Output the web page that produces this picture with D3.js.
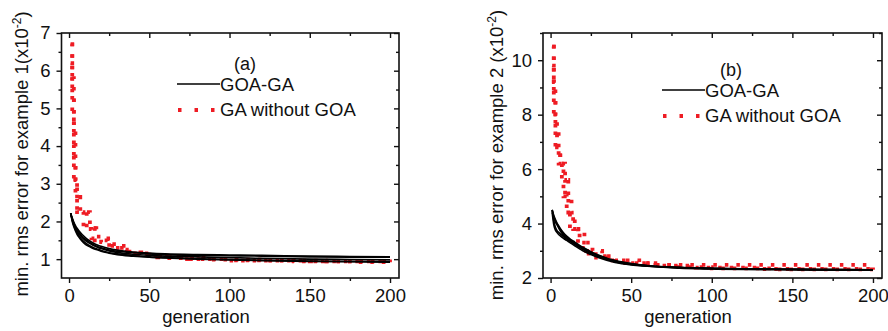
<!DOCTYPE html>
<html>
<head>
<meta charset="utf-8">
<script src="https://cdn.jsdelivr.net/npm/d3@7"></script>
<style>
  body { margin: 0; background: #fff; }
  svg { display: block; }
  text { font-family: "Liberation Sans", Arial, sans-serif; fill: #111; }
</style>
</head>
<body>
<svg id="chart" width="888" height="331"></svg>
<script>
// DATA
// generations where the GOA-GA runs were read off
var gens = [1, 2, 3, 4, 5, 6, 8, 10, 12, 15, 18, 20, 25, 30, 40, 50, 60, 80, 100, 120, 150, 175, 200];

// panel (a) - GOA-GA, 5 runs
var goaA1 = [2.22, 2.09, 1.98, 1.89, 1.82, 1.76, 1.66, 1.58, 1.51, 1.43, 1.37, 1.34, 1.28, 1.24, 1.19, 1.16, 1.14, 1.12, 1.11, 1.10, 1.08, 1.07, 1.06];
var goaA2 = [2.22, 2.06, 1.93, 1.83, 1.75, 1.68, 1.58, 1.50, 1.44, 1.37, 1.31, 1.28, 1.22, 1.18, 1.13, 1.10, 1.08, 1.06, 1.04, 1.02, 1.00, 0.99, 0.98];
var goaA3 = [2.22, 2.03, 1.89, 1.78, 1.70, 1.63, 1.52, 1.44, 1.38, 1.31, 1.26, 1.23, 1.17, 1.14, 1.09, 1.06, 1.04, 1.01, 0.99, 0.97, 0.95, 0.94, 0.93];
var goaA4 = [2.22, 2.00, 1.86, 1.75, 1.66, 1.59, 1.48, 1.40, 1.35, 1.28, 1.24, 1.21, 1.16, 1.12, 1.08, 1.05, 1.03, 1.00, 0.98, 0.96, 0.94, 0.93, 0.92];
var goaA5 = [2.22, 2.07, 1.95, 1.85, 1.78, 1.72, 1.61, 1.53, 1.47, 1.39, 1.33, 1.30, 1.24, 1.21, 1.17, 1.14, 1.12, 1.10, 1.09, 1.08, 1.06, 1.05, 1.05];

// panel (a) - GA without GOA, step points [generation, value]
var gaA1 = [[1, 6.7], [2, 5.3], [3, 3.6], [4, 2.7], [5, 2.25], [11, 1.82], [16, 1.5], [24, 1.35], [34, 1.2], [42, 1.12], [55, 1.05], [75, 1.0], [100, 0.97], [140, 0.94], [180, 0.92], [200, 0.92]];
var gaA2 = [[1, 6.7], [2, 5.8], [3, 4.4], [4, 3.1], [5, 2.65], [7, 2.25], [13, 1.82], [17, 1.6], [22, 1.55], [26, 1.4], [30, 1.3], [35, 1.18], [45, 1.1], [60, 1.03], [85, 0.99], [120, 0.96], [160, 0.94], [200, 0.93]];
var gaA3 = [[1, 6.2], [2, 4.9], [3, 3.1], [5, 2.25], [9, 1.8], [14, 1.55], [20, 1.45], [25, 1.3], [32, 1.25], [36, 1.15], [50, 1.08], [70, 1.0], [100, 0.96], [150, 0.94], [200, 0.92]];

// panel (b) - GOA-GA, 5 runs
var goaB1 = [4.50, 4.30, 4.15, 4.02, 3.92, 3.82, 3.66, 3.54, 3.44, 3.32, 3.20, 3.13, 2.97, 2.84, 2.64, 2.53, 2.46, 2.39, 2.36, 2.34, 2.32, 2.31, 2.30];
var goaB2 = [4.50, 4.10, 3.86, 3.74, 3.68, 3.62, 3.52, 3.43, 3.35, 3.23, 3.12, 3.05, 2.90, 2.78, 2.60, 2.50, 2.44, 2.38, 2.35, 2.33, 2.31, 2.30, 2.30];
var goaB3 = [4.45, 4.20, 4.05, 3.95, 3.84, 3.73, 3.57, 3.47, 3.38, 3.26, 3.15, 3.08, 2.93, 2.80, 2.61, 2.51, 2.45, 2.38, 2.35, 2.33, 2.32, 2.31, 2.30];
var goaB4 = [4.40, 3.95, 3.76, 3.67, 3.60, 3.55, 3.46, 3.38, 3.30, 3.18, 3.07, 3.00, 2.86, 2.74, 2.57, 2.48, 2.43, 2.36, 2.33, 2.31, 2.30, 2.29, 2.29];
var goaB5 = [4.50, 4.25, 4.10, 3.99, 3.88, 3.79, 3.62, 3.50, 3.41, 3.29, 3.17, 3.10, 2.95, 2.82, 2.63, 2.52, 2.45, 2.38, 2.35, 2.33, 2.32, 2.31, 2.30];

// panel (b) - GA without GOA, step points [generation, value]
var gaB1 = [[1, 10.5], [2, 9.2], [3, 8.0], [4, 7.4], [5, 6.8], [6, 6.2], [9, 5.6], [11, 5.0], [13, 4.4], [15, 3.8], [21, 3.3], [26, 3.0], [32, 2.8], [40, 2.65], [55, 2.55], [65, 2.48], [200, 2.47]];
var gaB2 = [[1, 10.5], [2, 8.6], [3, 7.4], [4, 6.8], [6, 6.2], [7, 5.6], [8, 5.0], [10, 4.4], [12, 3.8], [17, 3.2], [20, 2.9], [25, 2.75], [35, 2.62], [45, 2.55], [60, 2.48], [75, 2.4], [100, 2.35], [140, 2.32], [200, 2.3]];
var gaB3 = [[1, 9.8], [2, 8.0], [3, 6.8], [5, 6.2], [8, 5.6], [9, 5.0], [11, 4.4], [14, 3.8], [18, 3.3], [22, 3.0], [28, 2.8], [36, 2.65], [50, 2.55], [65, 2.45], [90, 2.38], [130, 2.33], [200, 2.32]];

// tick labels
var xTicks = [0, 50, 100, 150, 200];
var xMinor = [25, 75, 125, 175];
var yTicksA = [1, 2, 3, 4, 5, 6, 7];
var yMinorA = [1.5, 2.5, 3.5, 4.5, 5.5, 6.5];
var yTicksB = [2, 4, 6, 8, 10];
var yMinorB = [3, 5, 7, 9, 11];

var legendNames = ['GOA-GA', 'GA without GOA'];
var RED = '#ee1c24';

var svg = d3.select('#chart');

function drawPanel(cfg) {
	var x = d3.scaleLinear().domain([-4.7, 205.6]).range([cfg.left, cfg.right]);
	var y = d3.scaleLinear().domain(cfg.yDomain).range([cfg.bottom, cfg.top]);

	var g = svg.append('g');

	// clip
	g.append('clipPath').attr('id', cfg.id + 'clip')
		.append('rect')
		.attr('x', cfg.left).attr('y', cfg.top)
		.attr('width', cfg.right - cfg.left).attr('height', cfg.bottom - cfg.top);

	var plot = g.append('g').attr('clip-path', 'url(#' + cfg.id + 'clip)');

	// GA without GOA - red dotted steps
	var step = d3.line()
		.x(function(d) { return x(d[0]); })
		.y(function(d) { return y(d[1]); })
		.curve(d3.curveStepAfter);
	cfg.ga.forEach(function(run) {
		plot.append('path')
			.attr('d', step(run))
			.attr('fill', 'none')
			.attr('stroke', RED)
			.attr('stroke-width', 3.8)
			.attr('stroke-dasharray', '3.5,8');
	});

	// GOA-GA - black solid
	var smooth = d3.line()
		.x(function(d, i) { return x(gens[i]); })
		.y(function(d) { return y(d); })
		.curve(d3.curveMonotoneX);
	cfg.goa.forEach(function(run) {
		plot.append('path')
			.attr('d', smooth(run))
			.attr('fill', 'none')
			.attr('stroke', '#000')
			.attr('stroke-width', 1.6);
	});

	// axes: bottom / left outward with labels
	g.append('g').attr('transform', 'translate(0,' + cfg.bottom + ')')
		.call(d3.axisBottom(x).tickValues(xTicks).tickSize(5).tickPadding(6).tickFormat(d3.format('d')));
	g.append('g').attr('transform', 'translate(0,' + cfg.bottom + ')')
		.call(d3.axisBottom(x).tickValues(xMinor).tickSize(3).tickFormat(''));
	g.append('g').attr('transform', 'translate(' + cfg.left + ',0)')
		.call(d3.axisLeft(y).tickValues(cfg.yTicks).tickSize(5).tickPadding(6).tickFormat(d3.format('d')));
	g.append('g').attr('transform', 'translate(' + cfg.left + ',0)')
		.call(d3.axisLeft(y).tickValues(cfg.yMinor).tickSize(3).tickFormat(''));

	// top / right, inward, no labels
	g.append('g').attr('transform', 'translate(0,' + cfg.top + ')')
		.call(d3.axisTop(x).tickValues(xTicks).tickSize(-5).tickFormat(''));
	g.append('g').attr('transform', 'translate(0,' + cfg.top + ')')
		.call(d3.axisTop(x).tickValues(xMinor).tickSize(-3).tickFormat(''));
	g.append('g').attr('transform', 'translate(' + cfg.right + ',0)')
		.call(d3.axisRight(y).tickValues(cfg.yTicks).tickSize(-5).tickFormat(''));
	g.append('g').attr('transform', 'translate(' + cfg.right + ',0)')
		.call(d3.axisRight(y).tickValues(cfg.yMinor).tickSize(-3).tickFormat(''));

	g.selectAll('.domain').remove();
	g.selectAll('.tick line').attr('stroke', '#111').attr('stroke-width', 1.4);
	g.selectAll('.tick text').style('font-size', '18.5px').attr('fill', '#111')
		.style('font-family', '"Liberation Sans", Arial, sans-serif');

	// frame
	g.append('rect')
		.attr('x', cfg.left).attr('y', cfg.top)
		.attr('width', cfg.right - cfg.left).attr('height', cfg.bottom - cfg.top)
		.attr('fill', 'none').attr('stroke', '#111').attr('stroke-width', 1.6);

	// axis titles
	g.append('text')
		.attr('x', cfg.xTitleX).attr('y', 323)
		.attr('text-anchor', 'middle')
		.style('font-size', '18.5px')
		.text('generation');

	var yt = g.append('text')
		.attr('transform', 'translate(' + cfg.yTitleX + ',' + cfg.yTitleY + ') rotate(-90)')
		.attr('text-anchor', 'middle')
		.style('font-size', '18.5px');
	yt.append('tspan').text(cfg.yTitle + '(x10');
	yt.append('tspan').attr('dy', -7).style('font-size', '12px').text('-2');
	yt.append('tspan').attr('dy', 7).text(')');

	// legend
	var lx = cfg.legX, ly = cfg.legY;
	g.append('text').attr('x', cfg.tagX).attr('y', ly - 21)
		.attr('text-anchor', 'middle').style('font-size', '18px').text(cfg.tag);
	g.append('line')
		.attr('x1', lx).attr('x2', lx + 43).attr('y1', ly - 7).attr('y2', ly - 7)
		.attr('stroke', '#000').attr('stroke-width', 1.6);
	g.append('text').attr('x', lx + 43).attr('y', ly)
		.style('font-size', '18.5px').text(legendNames[0]);
	g.append('line')
		.attr('x1', lx + 1).attr('x2', lx + 40).attr('y1', ly + 19).attr('y2', ly + 19)
		.attr('stroke', RED).attr('stroke-width', 3.8).attr('stroke-dasharray', '3.5,13');
	g.append('text').attr('x', lx + 43).attr('y', ly + 25)
		.style('font-size', '18.5px').text(legendNames[1]);
}

drawPanel({
	id: 'a', left: 61.5, right: 399, top: 33, bottom: 278,
	yDomain: [0.5, 7], yTicks: yTicksA, yMinor: yMinorA,
	goa: [goaA1, goaA2, goaA3, goaA4, goaA5],
	ga: [gaA1, gaA2, gaA3],
	xTitleX: 206, yTitleX: 28, yTitleY: 154,
	yTitle: 'min. rms error for example 1',
	tag: '(a)', tagX: 245, legX: 177, legY: 91
});

drawPanel({
	id: 'b', left: 543, right: 882, top: 33, bottom: 278,
	yDomain: [2, 11], yTicks: yTicksB, yMinor: yMinorB,
	goa: [goaB1, goaB2, goaB3, goaB4, goaB5],
	ga: [gaB1, gaB2, gaB3],
	xTitleX: 688, yTitleX: 503, yTitleY: 155,
	yTitle: 'min. rms error for example 2 ',
	tag: '(b)', tagX: 731, legX: 662, legY: 97
});
</script>
</body>
</html>
